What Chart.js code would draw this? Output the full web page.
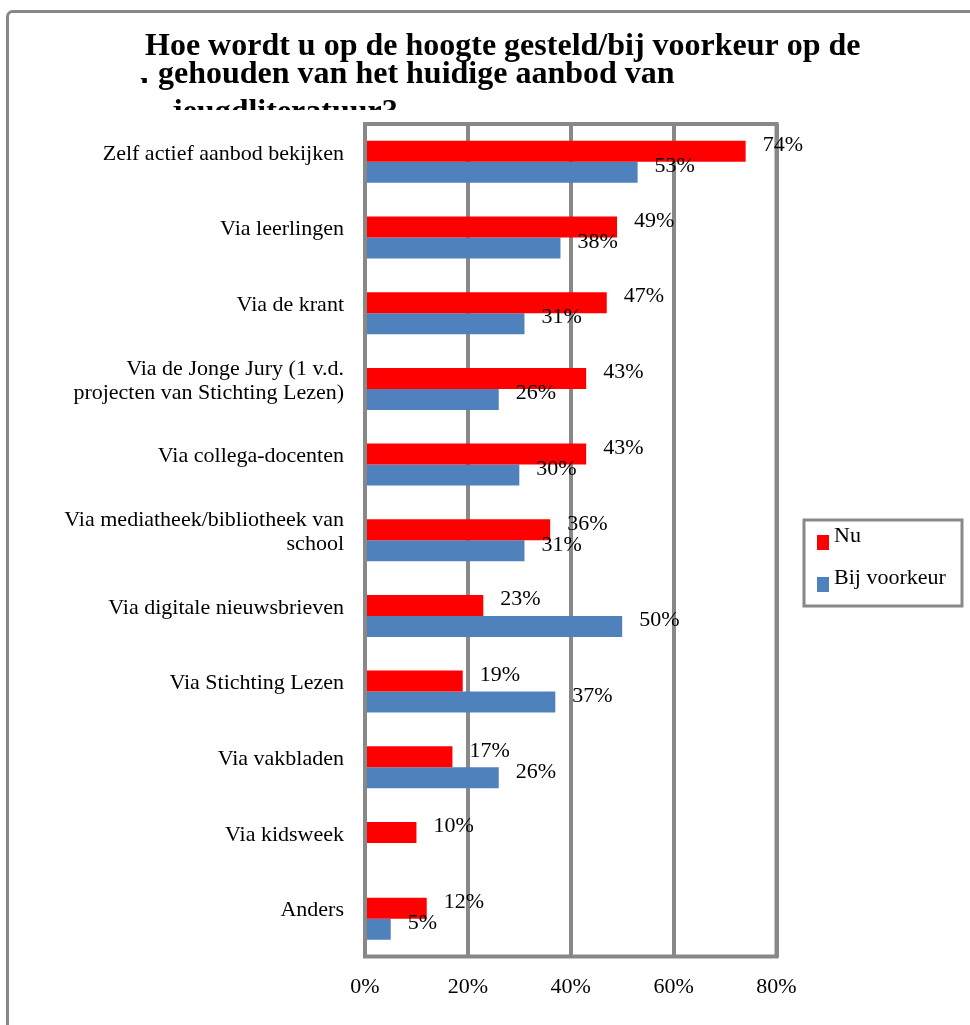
<!DOCTYPE html>
<html>
<head>
<meta charset="utf-8">
<script src="https://cdn.jsdelivr.net/npm/chart.js@4/dist/chart.umd.min.js"></script>
<style>
  body { margin: 0; background: #fff; }
  #chart { display: block; }
</style>
</head>
<body>
<canvas id="chart" width="970" height="1025"></canvas>
<script>
const categories = [
    'Zelf actief aanbod bekijken',
    'Via leerlingen',
    'Via de krant',
    ['Via de Jonge Jury (1 v.d.', 'projecten van Stichting Lezen)'],
    'Via collega-docenten',
    ['Via mediatheek/bibliotheek van', 'school'],
    'Via digitale nieuwsbrieven',
    'Via Stichting Lezen',
    'Via vakbladen',
    'Via kidsweek',
    'Anders'
];
const nu = [74, 49, 47, 43, 43, 36, 23, 19, 17, 10, 12];
const bijVoorkeur = [53, 38, 31, 26, 30, 31, 50, 37, 26, null, 5];
const xTicks = [0, 20, 40, 60, 80];

const titleLines = [
    'Hoe wordt u op de hoogte gesteld/bij voorkeur op de',
    'gehouden van het huidige aanbod van',
    'jeugdliteratuur?'
];

const serif = "'Liberation Serif', 'DejaVu Serif', serif";
const grey = '#888888';

// outer frame, title, plot frame, value labels and legend box
const decor = {
    id: 'decor',
    beforeDraw(chart) {
        const ctx = chart.ctx;
        ctx.save();
        ctx.fillStyle = '#fff';
        ctx.fillRect(0, 0, chart.width, chart.height);
        ctx.strokeStyle = grey;
        ctx.lineWidth = 3;
        ctx.beginPath();
        ctx.roundRect(7.5, 11.5, 1000, 1100, 5);
        ctx.stroke();

        // title (overlapping lines as in the original)
        ctx.fillStyle = '#000';
        ctx.font = 'bold 32px ' + serif;
        ctx.textBaseline = 'alphabetic';
        ctx.fillText(titleLines[0], 145, 55);
        ctx.save();
        ctx.beginPath();
        ctx.rect(0, 0, chart.width, 83);
        ctx.clip();
        ctx.fillText('hoogte', 140, 100);
        ctx.restore();
        ctx.fillText(titleLines[1], 158, 83);
        ctx.save();
        ctx.beginPath();
        ctx.rect(0, 0, chart.width, 110);
        ctx.clip();
        ctx.fillText(titleLines[2], 172, 121);
        ctx.restore();
        ctx.restore();
    },
    afterDatasetsDraw(chart) {
        const ctx = chart.ctx;
        const a = chart.chartArea;
        ctx.save();
        ctx.strokeStyle = grey;
        ctx.lineWidth = 4;
        ctx.strokeRect(a.left, a.top, a.right - a.left, a.bottom - a.top);

        ctx.fillStyle = '#000';
        ctx.font = '22px ' + serif;
        ctx.textAlign = 'left';
        ctx.textBaseline = 'middle';
        chart.data.datasets.forEach((ds, i) => {
            chart.getDatasetMeta(i).data.forEach((bar, j) => {
                const v = ds.data[j];
                if (v === null || v === undefined) return;
                ctx.fillText(v + '%', bar.x + 17, bar.y - 6);
            });
        });

        // legend
        ctx.lineWidth = 3;
        ctx.strokeRect(804, 520, 158, 86);
        ctx.textBaseline = 'alphabetic';
        chart.data.datasets.forEach((ds, i) => {
            const y = 535 + i * 42;
            ctx.fillStyle = ds.backgroundColor;
            ctx.fillRect(817, y, 12, 15);
            ctx.fillStyle = '#000';
            ctx.fillText(ds.label, 834, y + 7);
        });
        ctx.restore();
    }
};

new Chart(document.getElementById('chart'), {
    type: 'bar',
    data: {
        labels: categories,
        datasets: [
            { label: 'Nu', data: nu, backgroundColor: '#FF0000' },
            { label: 'Bij voorkeur', data: bijVoorkeur, backgroundColor: '#4F81BD' }
        ]
    },
    options: {
        indexAxis: 'y',
        responsive: false,
        animation: false,
        layout: { padding: { top: 124, right: 193.5, left: 0, bottom: 0 } },
        datasets: { bar: { categoryPercentage: 0.555, barPercentage: 1 } },
        plugins: {
            legend: { display: false },
            title: { display: false },
            tooltip: { enabled: false }
        },
        scales: {
            x: {
                min: 0,
                max: 80,
                afterBuildTicks: scale => { scale.ticks = xTicks.map(v => ({ value: v })); },
                afterFit: scale => { scale.height = 68.5; },
                grid: { color: grey, lineWidth: 4, drawTicks: false },
                border: { display: false },
                ticks: {
                    padding: 18,
                    color: '#000',
                    font: { family: serif, size: 22 },
                    callback: v => v + '%'
                }
            },
            y: {
                afterFit: scale => { scale.width = 365; },
                grid: { display: false },
                border: { display: false },
                ticks: {
                    padding: 13,
                    labelOffset: -8,
                    color: '#000',
                    font: { family: serif, size: 22, lineHeight: 1.1 }
                }
            }
        }
    },
    plugins: [decor]
});
</script>
</body>
</html>
